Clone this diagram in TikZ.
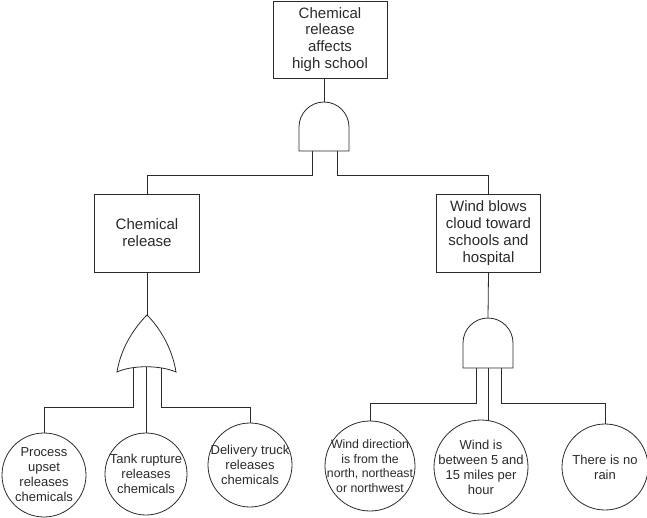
\documentclass[tikz,border=0pt]{standalone}
\usepackage{fontspec}
\setmainfont{Liberation Sans}
\usetikzlibrary{positioning,calc}
\definecolor{ink}{HTML}{2A2A2A}

\begin{document}
\begin{tikzpicture}[x=1pt,y=-1pt]
    \tikzset{
      event/.style={rectangle,draw=ink,line width=0.8pt,align=center,inner sep=2pt,text=ink,font=\fontsize{15}{16.8}\selectfont},
      basic/.style={circle,draw=ink,line width=0.8pt,align=center,inner sep=-4pt,text=ink,font=\fontsize{13}{15}\selectfont},
      gate/.style={draw=ink,line width=0.8pt,fill=white},
      wire/.style={draw=ink,line width=0.8pt}
    }
    \useasboundingbox (0,0) rectangle (647,517);
    \node[event,minimum width=114pt,minimum height=77pt] (top) at (330,39.5) {Chemical\\release\\affects\\high school};
    \node[event,minimum width=105pt,minimum height=78pt] (chem) at (147,233) {Chemical\\release};
    \node[event,minimum width=104pt,minimum height=78pt] (wind) at (488.5,233) {Wind blows\\cloud toward\\schools and\\hospital};
    \node[basic,minimum size=84pt] (upset) at (44,475) {Process\\upset\\releases\\chemicals};
    \node[basic,minimum size=82pt] (tank) at (146,474) {Tank rupture\\releases\\chemicals};
    \node[basic,minimum size=84pt] (truck) at (250,465) {Delivery truck\\releases\\chemicals};
    \node[basic,minimum size=90pt,font=\fontsize{12.3}{14.5}\selectfont] (dir) at (370,466) {Wind direction\\is from the\\north, northeast\\or northwest};
    \node[basic,minimum size=94pt] (speed) at (481,467) {Wind is\\between 5 and\\15 miles per\\hour};
    \node[basic,minimum size=86pt] (rain) at (605,467) {There is no\\rain};
    \coordinate (andA) at (324,102);
    \coordinate (andB) at (488,318);
    \coordinate (orA) at (147,315);
    \coordinate (busA) at (0,175);
    \coordinate (busB) at (0,407);
    \coordinate (busC) at (0,403);
    \draw[wire] (andA |- top.south) -- (andA);
    \draw[wire] (chem.south) -- (orA);
    \draw[wire] (wind.south) -- (andB);
    \draw[wire] (312,140) |- (busA -| chem) -- (chem.north);
    \draw[wire] (337,140) |- (busA -| wind) -- (wind.north);
    \draw[wire] (133,360) |- (busB -| upset) -- (upset.north);
    \draw[wire] (146,360) -- (tank.north);
    \draw[wire] (161,360) |- (busB -| truck) -- (truck.north);
    \draw[wire] (476,355) |- (busC -| dir) -- (dir.north);
    \draw[wire] (488,355) -- (488,421);
    \draw[wire] (501,355) |- (busC -| rain) -- (rain.north);
    \draw[gate] (299,151) -- (299,127) .. controls (299,113.2) and (310.2,102) .. (andA)
      .. controls (337.8,102) and (349,113.2) .. (349,127) -- (349,151) -- cycle;
    \draw[gate] (463,368) -- (463,343) .. controls (463,329.2) and (474.2,318) .. (andB)
      .. controls (501.8,318) and (513,329.2) .. (513,343) -- (513,368) -- cycle;
    \draw[gate] (orA) .. controls (135,327) and (121,347) .. (117,372)
      .. controls (132,365) and (160,365) .. (176,372)
      .. controls (172,347) and (159,327) .. (orA) -- cycle;
  \end{tikzpicture}
\end{document}
